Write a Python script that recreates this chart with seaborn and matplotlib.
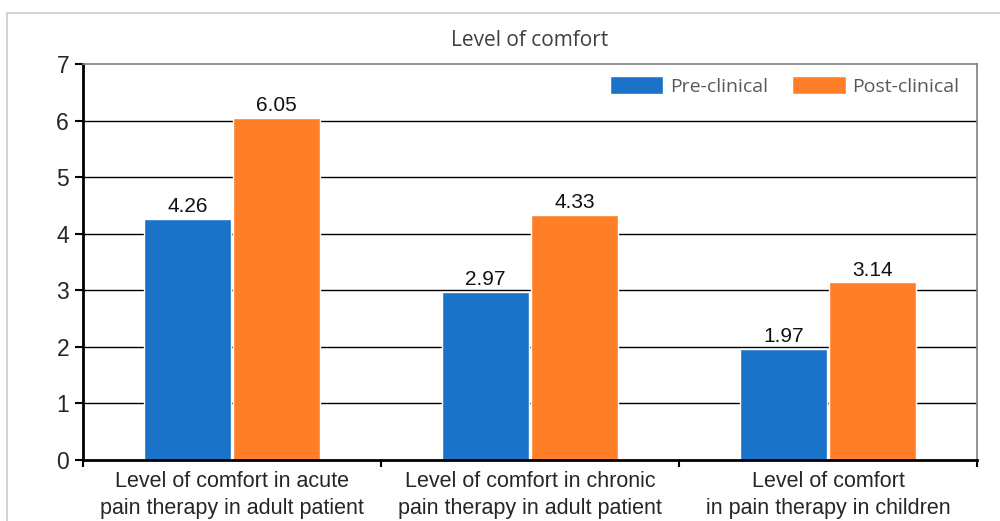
import matplotlib
matplotlib.use("Agg")
import matplotlib.pyplot as plt
import seaborn as sns
import pandas as pd
from matplotlib.patches import Rectangle

categories = [
    "Level of comfort in acute\npain therapy in adult patient",
    "Level of comfort in chronic\npain therapy in adult patient",
    "Level of comfort\nin pain therapy in children",
]
series_names = ["Pre-clinical", "Post-clinical"]
pre_clinical = [4.26, 2.97, 1.97]
post_clinical = [6.05, 4.33, 3.14]
y_ticks = [0, 1, 2, 3, 4, 5, 6, 7]

df = pd.DataFrame({
    "category": categories * 2,
    "series": [series_names[0]] * 3 + [series_names[1]] * 3,
    "value": pre_clinical + post_clinical,
})

sns.set_style("white")
plt.rcParams["font.family"] = ["Liberation Sans", "DejaVu Sans"]

fig = plt.figure(figsize=(10, 5.21), dpi=100)
ax = fig.add_axes([0.083, 0.117, 0.894, 0.760])

palette = {series_names[0]: "#1a73c8", series_names[1]: "#fe7f27"}
sns.barplot(data=df, x="category", y="value", hue="series", order=categories,
            hue_order=series_names, palette=palette, width=0.6, gap=0.03,
            saturation=1, ax=ax, legend=True)

for container in ax.containers:
    ax.bar_label(container, fmt="%.2f", padding=2, fontsize=15, color="#111111")

ax.set_ylim(0, 7)
ax.set_xlim(-0.5, 2.5)
ax.set_yticks(y_ticks)
ax.set_yticklabels([str(t) for t in y_ticks], fontsize=16.5)
ax.set_xlabel("")
ax.set_ylabel("")
ax.tick_params(axis="x", length=0, labelsize=15.5, pad=8)
for lbl in ax.get_xticklabels():
    lbl.set_linespacing(1.35)
ax.tick_params(axis="y", length=6, width=1.5, color="black", left=True, pad=4)

# horizontal gridlines
for t in y_ticks[1:-1]:
    ax.axhline(t, color="black", lw=1.0, zorder=0)
ax.set_axisbelow(True)

# category boundary ticks on the x axis
ax.set_xticks([0, 1, 2], minor=False)
ax.set_xticks([-0.5, 0.5, 1.5, 2.5], minor=True)
ax.tick_params(axis="x", which="minor", length=5, width=1.5, color="black", bottom=True)

for side in ["left", "bottom"]:
    ax.spines[side].set_color("black")
    ax.spines[side].set_linewidth(2)
for side in ["top", "right"]:
    ax.spines[side].set_color("#808080")
    ax.spines[side].set_linewidth(1.2)

ax.set_title("Level of comfort", fontsize=15, color="#404040",
             fontfamily=["Open Sans", "DejaVu Sans"], pad=13)

handles, labels = ax.get_legend_handles_labels()
ax.legend(handles, labels, loc="upper right", ncol=2, frameon=False,
          bbox_to_anchor=(1.0, 1.013), prop={"family": ["Open Sans", "DejaVu Sans"], "size": 14},
          labelcolor="#595959", handlelength=2.75, handleheight=1.0,
          handletextpad=0.35, columnspacing=1.25)

# outer chart border
fig.patches.append(Rectangle((0.007, -0.1), 1.2, 1.075, transform=fig.transFigure,
                             fill=False, edgecolor="#cccccc", lw=1.2, zorder=-1))

fig.savefig("out.png", dpi=100, facecolor="white")
